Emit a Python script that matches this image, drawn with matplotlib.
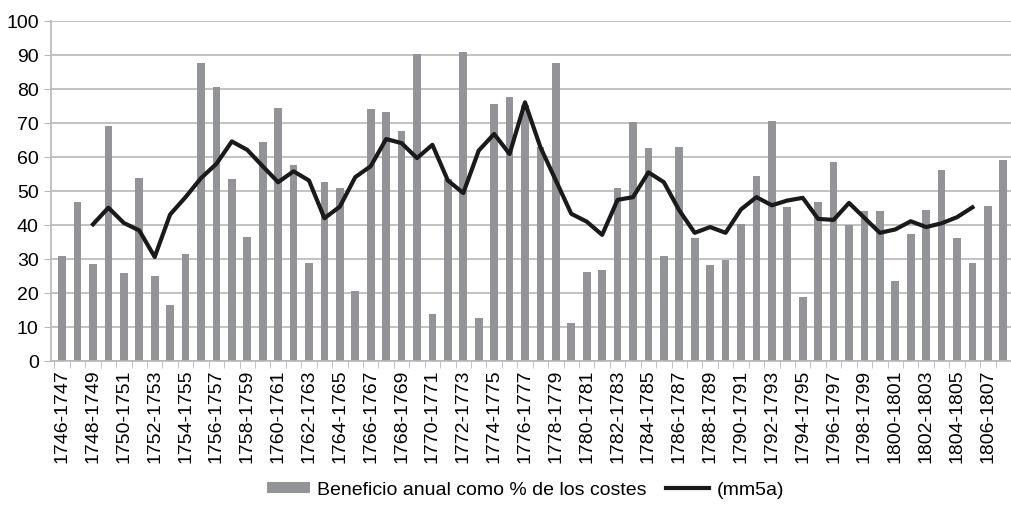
import matplotlib.pyplot as plt
import numpy as np

plt.rcParams['font.family'] = ['Liberation Sans', 'DejaVu Sans']

years = list(range(1746, 1808))
labels = [f"{y}-{y+1}" for y in years]

beneficio = [31.1, 47, 28.5, 69.3, 25.9, 53.8, 25, 16.5, 31.7, 87.9,
             80.8, 53.5, 36.7, 64.6, 74.6, 57.9, 28.8, 52.9, 51.1, 20.6,
             74.3, 73.5, 67.9, 90.5, 13.8, 53.6, 91.1, 12.6, 75.8, 77.9,
             75.5, 63, 87.9, 11.2, 26.4, 27, 51.1, 70.5, 62.9, 30.9,
             63, 36.4, 28.2, 29.7, 40.5, 54.4, 70.8, 45.5, 18.8, 47,
             58.5, 40, 44.1, 44.1, 23.5, 37.6, 44.4, 56.4, 36.4, 28.8,
             45.8, 59.1]

mm5a = [40.3, 45.2, 40.7, 38.5, 30.7, 43.2, 48.3, 53.9, 58.1, 64.7,
        62.2, 57.4, 52.7, 55.9, 53.2, 42.1, 45.5, 54.2, 57.4, 65.4,
        64.2, 59.8, 63.7, 53.2, 49.5, 62, 66.9, 61,
        76.2, 63, 53.2, 43.4, 41.1, 37.2, 47.5, 48.3, 55.6, 52.7,
        44.4, 37.8, 39.5, 37.8, 44.7, 48.3, 45.9, 47.3, 48.1, 41.9,
        41.6, 46.6, 42.2, 37.8, 38.8, 41.2, 39.5, 40.6, 42.4, 45.3]

fig = plt.figure(figsize=(10.11, 5.11), dpi=100)
ax = fig.add_axes([0.05, 0.293, 0.95, 0.665])
x = np.arange(len(years))
bars = ax.bar(x, beneficio, width=0.5, color='#939497', zorder=2)
line, = ax.plot(x[2:2 + len(mm5a)], mm5a, color='#1a1a1a', lw=3, zorder=3)

ax.set_ylim(0, 100)
ax.set_xlim(-0.75, len(years) - 0.5)
ax.set_yticks(range(0, 101, 10))
ax.yaxis.grid(True, color='#b8b8bb', lw=1.2, zorder=0)
ax.set_xticks(x[::2])
ax.set_xticklabels(labels[::2], rotation=90, fontsize=14)
ax.set_xticks(np.arange(-0.5, len(years), 1), minor=True)
ax.tick_params(axis='x', which='major', length=0, pad=6)
ax.tick_params(axis='x', which='minor', length=5, color='#b8b8bb')
ax.tick_params(axis='y', labelsize=14, length=5, color='#b8b8bb')
for s in ['top', 'right']:
    ax.spines[s].set_visible(False)
for s in ['left', 'bottom']:
    ax.spines[s].set_color('#b8b8bb')
    ax.spines[s].set_linewidth(1.2)

fig.legend([bars, line], ['Beneficio anual como % de los costes', '(mm5a)'],
           loc='lower center', bbox_to_anchor=(0.52, -0.01), ncol=2, frameon=False,
           fontsize=14, handlelength=2.2, handleheight=0.5, columnspacing=1.0,
           handletextpad=0.4)
fig.savefig('out.png')
